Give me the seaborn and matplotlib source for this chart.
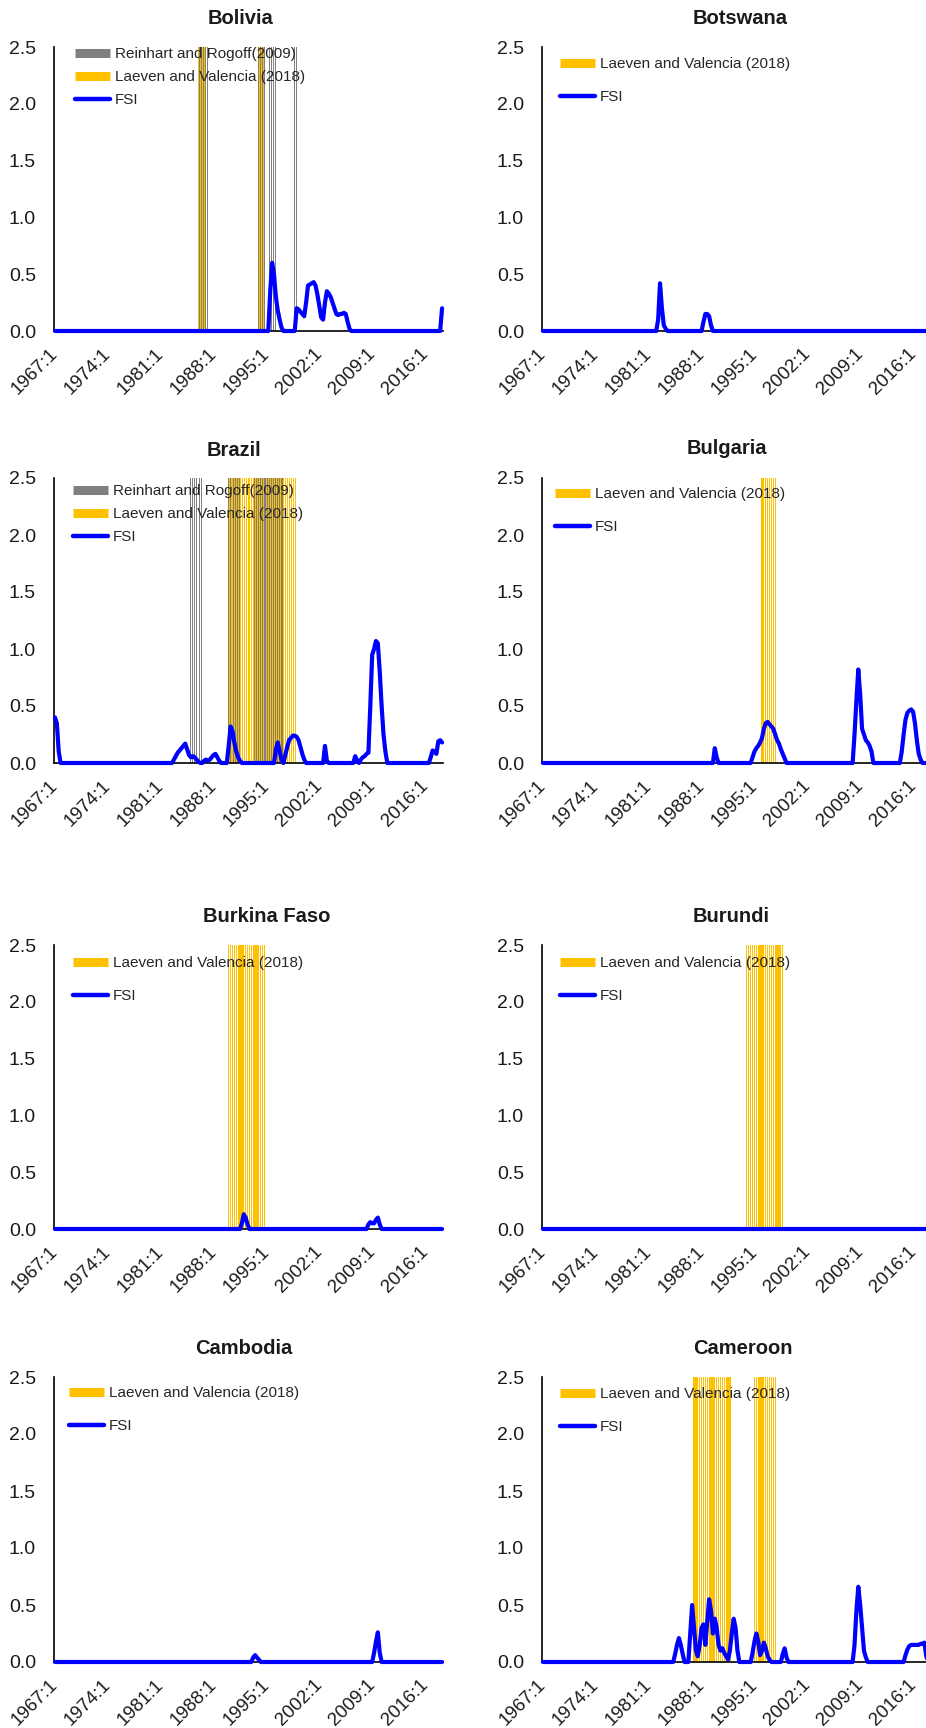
import numpy as np
import pandas as pd
import seaborn as sns
import matplotlib.pyplot as plt
from matplotlib.lines import Line2D

# quarterly category axis, 1967:1 .. 2018:2
quarters = [f"{1967 + i // 4}:{i % 4 + 1}" for i in range(206)]
tick_labels = ["1967:1", "1974:1", "1981:1", "1988:1", "1995:1", "2002:1", "2009:1", "2016:1"]

# FSI: stretches of consecutive quarterly values (start quarter -> values), zero elsewhere
bolivia_fsi = {
    "1995:2": [0.0, 0.35, 0.6, 0.5, 0.3, 0.18, 0.1, 0.03, 0.0],
    "1998:4": [0.0, 0.2, 0.19, 0.17, 0.15, 0.13, 0.25, 0.4, 0.41, 0.42, 0.43, 0.4, 0.32, 0.22, 0.12, 0.1,
               0.25, 0.35, 0.33, 0.3, 0.25, 0.2, 0.15, 0.14, 0.15, 0.15, 0.16, 0.15, 0.08, 0.02, 0.0],
    "2018:1": [0.0, 0.2],
}
botswana_fsi = {
    "1982:1": [0.0, 0.1, 0.42, 0.2, 0.05, 0.02, 0.0],
    "1988:1": [0.0, 0.08, 0.15, 0.15, 0.13, 0.05, 0.0],
}
brazil_fsi = {
    "1967:1": [0.4, 0.35, 0.1, 0.0],
    "1982:3": [0.0, 0.03, 0.06, 0.09, 0.11, 0.13, 0.15, 0.17, 0.12, 0.07, 0.05, 0.06, 0.05, 0.03, 0.01,
               0.0, 0.0, 0.02, 0.03, 0.02, 0.03, 0.05, 0.07, 0.08, 0.05, 0.02, 0.0],
    "1989:4": [0.0, 0.15, 0.32, 0.28, 0.18, 0.1, 0.05, 0.02, 0.0],
    "1996:1": [0.0, 0.12, 0.18, 0.1, 0.03, 0.0, 0.07, 0.14, 0.2, 0.22, 0.24, 0.24, 0.23, 0.2, 0.14, 0.08, 0.03, 0.0],
    "2002:3": [0.0, 0.15, 0.02, 0.0],
    "2006:3": [0.0, 0.06, 0.02, 0.0, 0.03, 0.05, 0.06, 0.08, 0.09, 0.5, 0.95, 1.0, 1.07, 1.05, 0.8, 0.5, 0.25, 0.1, 0.0],
    "2016:3": [0.0, 0.05, 0.11, 0.1, 0.08, 0.19, 0.2, 0.18],
}
bulgaria_fsi = {
    "1989:3": [0.0, 0.13, 0.05, 0.0],
    "1994:3": [0.0, 0.05, 0.1, 0.13, 0.15, 0.18, 0.22, 0.3, 0.35, 0.36, 0.34, 0.32, 0.3, 0.25, 0.2, 0.17,
               0.12, 0.08, 0.04, 0.0],
    "2008:1": [0.0, 0.25, 0.55, 0.82, 0.6, 0.3, 0.25, 0.2, 0.18, 0.15, 0.1, 0.0],
    "2014:2": [0.0, 0.1, 0.25, 0.38, 0.44, 0.46, 0.47, 0.45, 0.35, 0.2, 0.08, 0.03, 0.0],
}
burkina_fsi = {
    "1991:3": [0.0, 0.05, 0.13, 0.1, 0.04, 0.0],
    "2008:2": [0.0, 0.04, 0.06, 0.05, 0.05, 0.08, 0.1, 0.04, 0.0],
}
burundi_fsi = {}
cambodia_fsi = {
    "1993:1": [0.0, 0.04, 0.06, 0.04, 0.02, 0.0],
    "2009:1": [0.0, 0.08, 0.18, 0.26, 0.08, 0.0],
}
cameroon_fsi = {
    "1984:2": [0.0, 0.07, 0.15, 0.21, 0.15, 0.07, 0.0],
    "1986:2": [0.0, 0.25, 0.5, 0.3, 0.1, 0.05, 0.15, 0.3, 0.33, 0.15, 0.35, 0.55, 0.45, 0.25, 0.38, 0.3,
               0.15, 0.1, 0.12, 0.08, 0.05, 0.02, 0.1, 0.25, 0.38, 0.3, 0.1, 0.0],
    "1994:3": [0.0, 0.08, 0.18, 0.25, 0.18, 0.06, 0.1, 0.17, 0.12, 0.05, 0.02, 0.0],
    "1998:3": [0.0, 0.07, 0.12, 0.04, 0.0],
    "2008:1": [0.0, 0.15, 0.45, 0.66, 0.5, 0.3, 0.1, 0.04, 0.0],
    "2014:4": [0.0, 0.06, 0.11, 0.14, 0.15, 0.15, 0.15, 0.15, 0.15, 0.16, 0.16, 0.17, 0.05, 0.0, 0.0],
}

# crisis periods (first quarter, last quarter)
bolivia_rr = [("1986:1", "1987:2"), ("1994:1", "1994:4"), ("1995:3", "1996:2"), ("1998:4", "1999:1")]
bolivia_lv = [("1986:1", "1986:4"), ("1994:1", "1994:4")]
brazil_rr = [("1985:1", "1986:3"), ("1990:1", "1991:3"), ("1993:3", "1997:2")]
brazil_lv = [("1990:1", "1998:4")]
bulgaria_lv = [("1996:1", "1997:4")]
burkina_lv = [("1990:1", "1994:4")]
burundi_lv = [("1994:1", "1998:4")]
cameroon_lv = [("1987:1", "1991:4"), ("1995:1", "1997:4")]

RR_LABEL = "Reinhart and Rogoff(2009)"
LV_LABEL = "Laeven and Valencia (2018)"
GREY = "#808080"
GOLD = "#FFC000"
BLUE = "#0000FF"

W, H = 926, 1728
sns.set_theme(style="white")
plt.rcParams["font.family"] = ["Liberation Sans", "DejaVu Sans"]

fig = plt.figure(figsize=(W / 100, H / 100), dpi=100)


def expand_fsi(stretches):
    vals = np.zeros(len(quarters))
    for start, seg in stretches.items():
        i = quarters.index(start)
        vals[i:i + len(seg)] = seg
    return vals


def crisis_heights(periods):
    h = np.zeros(len(quarters))
    for start, end in periods:
        h[quarters.index(start):quarters.index(end) + 1] = 2.5
    return h


def panel(name, fsi, lv, rr, box, title_xy, leg_xy):
    x0, top, bottom = box
    ax = fig.add_axes([x0 / W, 1 - bottom / H, 389 / W, (bottom - top) / H])

    frames = []
    if rr is not None:
        frames.append(pd.DataFrame({"quarter": quarters, "source": RR_LABEL, "height": crisis_heights(rr)}))
    frames.append(pd.DataFrame({"quarter": quarters, "source": LV_LABEL, "height": crisis_heights(lv)}))
    bars = pd.concat(frames, ignore_index=True)
    hue_order = [RR_LABEL, LV_LABEL] if rr is not None else [LV_LABEL]
    sns.barplot(data=bars, x="quarter", y="height", hue="source", hue_order=hue_order,
                palette={RR_LABEL: GREY, LV_LABEL: GOLD}, order=quarters,
                width=1.0 if rr is not None else 0.65, dodge=True, errorbar=None,
                linewidth=0, saturation=1, legend=False, ax=ax)
    # two side-by-side series: crisp stripes, like the spreadsheet columns
    if rr is not None:
        for p in ax.patches:
            p.set_antialiased(False)

    sns.lineplot(x=np.arange(len(quarters)), y=expand_fsi(fsi), color=BLUE,
                 linewidth=3, legend=False, ax=ax)
    line = ax.lines[-1]
    line.set_zorder(4)
    line.set_clip_on(False)

    ax.set_xlim(-0.5, len(quarters) - 0.5)
    ax.set_ylim(0, 2.5)
    ax.set_xlabel("")
    ax.set_ylabel("")
    ax.set_xticks([quarters.index(t) for t in tick_labels])
    ax.set_xticklabels(tick_labels, rotation=45, ha="right", va="center", rotation_mode="anchor")
    ax.set_yticks([0, 0.5, 1.0, 1.5, 2.0, 2.5])
    ax.set_yticklabels([f"{v:.1f}" for v in [0, 0.5, 1.0, 1.5, 2.0, 2.5]])
    ax.tick_params(axis="both", length=0, labelcolor="#1a1a1a")
    ax.tick_params(axis="y", pad=13, labelsize=14)
    ax.tick_params(axis="x", pad=14.5, labelsize=13.5)
    for side in ["top", "right"]:
        ax.spines[side].set_visible(False)
    for side in ["left", "bottom"]:
        ax.spines[side].set_color("black")
        ax.spines[side].set_linewidth(1.2)

    fig.text(title_xy[0] / W, 1 - title_xy[1] / H, name, ha="center", va="center",
             fontsize=14.5, fontweight="bold", color="#1a1a1a")

    handles, labels = [], []
    if rr is not None:
        handles.append(Line2D([0], [0], color=GREY, lw=6.5, solid_capstyle="butt"))
        labels.append(RR_LABEL)
    handles.append(Line2D([0], [0], color=GOLD, lw=6.5, solid_capstyle="butt"))
    labels.append(LV_LABEL)
    handles.append(Line2D([0], [0], color=BLUE, lw=3.2))
    labels.append("FSI")
    ax.legend(handles, labels, loc="upper left",
              bbox_to_anchor=(leg_xy[0] / W, 1 - (leg_xy[1] - 6) / H),
              bbox_transform=fig.transFigure, frameon=False, fontsize=11,
              handlelength=2.3, handletextpad=0.3, borderpad=0, borderaxespad=0,
              labelspacing=0.6 if rr is not None else 1.25)


panel("Bolivia", bolivia_fsi, bolivia_lv, bolivia_rr, (54, 47, 331), (240, 19), (75, 53))
panel("Botswana", botswana_fsi, [], None, (542, 47, 331), (740, 18), (560, 63))
panel("Brazil", brazil_fsi, brazil_lv, brazil_rr, (54, 478, 763), (234, 450), (73, 490))
panel("Bulgaria", bulgaria_fsi, bulgaria_lv, None, (542, 478, 763), (727, 449), (555, 493))
panel("Burkina Faso", burkina_fsi, burkina_lv, None, (54, 945, 1229), (267, 917), (73, 962))
panel("Burundi", burundi_fsi, burundi_lv, None, (542, 945, 1229), (731, 917), (560, 962))
panel("Cambodia", cambodia_fsi, [], None, (54, 1377, 1662), (244, 1348), (69, 1392))
panel("Cameroon", cameroon_fsi, cameroon_lv, None, (542, 1377, 1662), (743, 1348), (560, 1393))

fig.savefig("out.png", dpi=100)
